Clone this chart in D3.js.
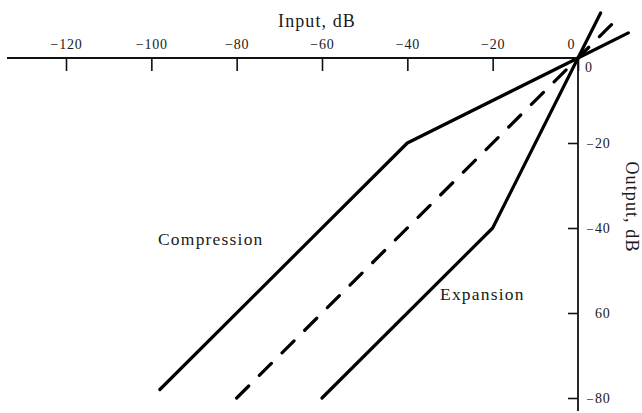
<!DOCTYPE html>
<html>
<head>
<meta charset="utf-8">
<script src="https://cdn.jsdelivr.net/npm/d3@7"></script>
<style>
  html, body { margin: 0; padding: 0; background: #fff; }
  svg { display: block; }
  text { font-family: "Liberation Serif", "DejaVu Serif", serif; fill: #1a1a1a; }
</style>
</head>
<body>
<svg id="chart" width="642" height="413"></svg>
<script>
// ---- data ----
const inputTicks = [-120, -100, -80, -60, -40, -20, 0];
const outputTicks = [0, 20, 40, 60, 80];
// points: [input dB, output dB]
const compressionInput = [-98, -40, 0, 11.8];
const compressionOutput = [-78, -20, 0, 5.9];
const expansionInput = [-60, -20, 0, 5.3];
const expansionOutput = [-80, -40, 0, 10.6];
const unityInput = [-80, 9.1];
const unityOutput = [-80, 9.1];

const svg = d3.select("#chart");
const x = d3.scaleLinear().domain([-120, 0]).range([66, 578]);
const y = d3.scaleLinear().domain([0, -80]).range([58, 398]);

// top axis (input)
const xAxis = d3.axisBottom(x).tickValues(inputTicks).tickSize(13).tickSizeOuter(0)
  .tickFormat(d => d === 0 ? "0" : "\u2212" + Math.abs(d));
const gx = svg.append("g").attr("transform", `translate(0,${y(0)})`).call(xAxis);
gx.select(".domain").remove();
gx.selectAll(".tick line").attr("stroke", "#111").attr("stroke-width", 1.6);
gx.selectAll(".tick text").attr("y", -9).attr("dy", 0)
  .attr("font-size", 14).attr("letter-spacing", 0.8).attr("fill", "#222")
  .attr("font-family", "Liberation Serif, serif");
gx.selectAll(".tick").filter(d => d === 0).select("text").attr("x", -7);
svg.append("line").attr("x1", 7).attr("x2", x(0)).attr("y1", y(0)).attr("y2", y(0))
  .attr("stroke", "#111").attr("stroke-width", 1.8);

// right axis (output)
const yAxis = d3.axisLeft(y).tickValues(outputTicks.map(v => -v)).tickSize(10).tickSizeOuter(0)
  .tickFormat(d => Math.abs(d));
const gy = svg.append("g").attr("transform", `translate(${x(0)},0)`).call(yAxis);
gy.select(".domain").remove();
gy.selectAll(".tick line").attr("stroke", "#111").attr("stroke-width", 1.6);
gy.selectAll(".tick").filter(d => d === 0).select("line").remove();
gy.selectAll(".tick text").attr("x", 17).attr("text-anchor", "start")
  .attr("font-size", 14).attr("letter-spacing", 0.8).attr("fill", "#222")
  .attr("font-family", "Liberation Serif, serif");
gy.selectAll(".tick").filter(d => d === 0).select("text").attr("x", 7).attr("dy", "0.95em").attr("y", 0);
// faint minus signs as printed on the scan
gy.selectAll(".tick").filter(d => d === -20 || d === -40 || d === -80).append("text")
  .attr("x", 9).attr("dy", "0.32em").attr("font-size", 12).attr("fill", "#aaa")
  .attr("font-family", "Liberation Serif, serif").attr("text-anchor", "start").text("\u2013");
svg.append("line").attr("x1", x(0)).attr("x2", x(0)).attr("y1", y(0)).attr("y2", 411)
  .attr("stroke", "#111").attr("stroke-width", 1.8);

// titles
svg.append("text").attr("x", 317).attr("y", 27).attr("text-anchor", "middle")
  .attr("font-size", 18).attr("letter-spacing", 1.1).text("Input, dB");
svg.append("text").attr("transform", "translate(626,207) rotate(90)").attr("text-anchor", "middle")
  .attr("font-size", 18).attr("letter-spacing", 1.1).text("Output, dB");

// curves
const line = d3.line().x(d => x(d[0])).y(d => y(d[1]));
const zip = (a, b) => a.map((v, i) => [v, b[i]]);
svg.append("path").datum(zip(compressionInput, compressionOutput)).attr("d", line)
  .attr("fill", "none").attr("stroke", "#000").attr("stroke-width", 3.2).attr("stroke-linejoin", "round").attr("stroke-linecap", "round");
svg.append("path").datum(zip(expansionInput, expansionOutput)).attr("d", line)
  .attr("fill", "none").attr("stroke", "#000").attr("stroke-width", 3.2).attr("stroke-linejoin", "round").attr("stroke-linecap", "round");
svg.append("path").datum(zip(unityInput, unityOutput)).attr("d", line)
  .attr("fill", "none").attr("stroke", "#000").attr("stroke-width", 3.2)
  .attr("stroke-dasharray", "17,15").attr("stroke-linecap", "round");

// labels
svg.append("text").attr("x", 158).attr("y", 245).attr("font-size", 17.5).attr("letter-spacing", 1.2).text("Compression");
svg.append("text").attr("x", 440).attr("y", 300).attr("font-size", 17.5).attr("letter-spacing", 1.2).text("Expansion");
</script>
</body>
</html>
